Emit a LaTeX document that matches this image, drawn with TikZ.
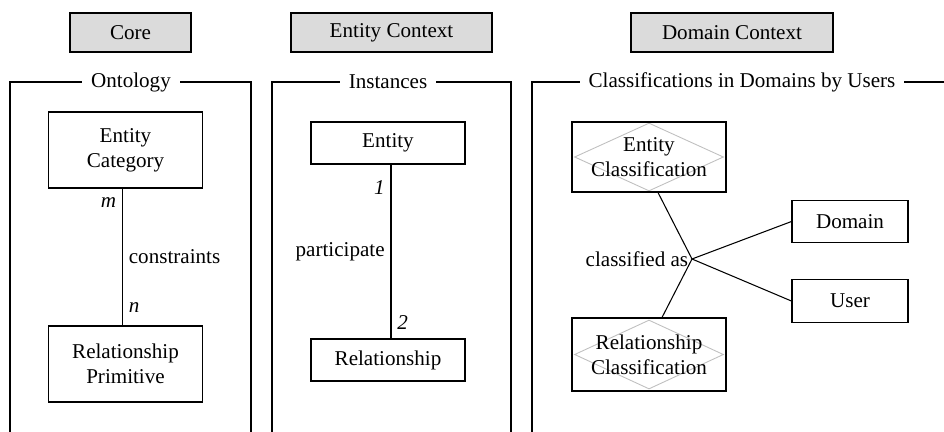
\documentclass[tikz,border=0pt]{standalone}
\usepackage{fontspec}
\setmainfont{Liberation Serif}
\usetikzlibrary{positioning,shapes.geometric,backgrounds}

\begin{document}
\begin{tikzpicture}[
    x=0.02cm, y=-0.02cm,
    font=\fontsize{12}{14}\selectfont,
    header/.style={draw=black, line width=0.8pt, fill=black!14, minimum height=0.78cm},
    entbox/.style={draw=black, line width=0.6pt, align=center, minimum width=3.08cm},
    cbox/.style={draw=black, line width=0.6pt, minimum width=2.32cm, minimum height=0.85cm},
    frametitle/.style={fill=white, inner xsep=5pt, inner ysep=1pt},
    frameline/.style={line width=0.6pt},
    link/.style={line width=0.6pt},
    mult/.style={font=\fontsize{12}{14}\selectfont\itshape},
    hint/.style={shape=diamond, draw=black!25, line width=0.5pt, minimum width=2.98cm, inner sep=0pt}
  ]
  \useasboundingbox (0,0) rectangle (944,432);

  % the three headers
  \node[header, minimum width=2.42cm] (core) at (130.5,32.5) {Core};
  \node[header, minimum width=4.02cm] (entctx) at (391.5,32.5) {Entity Context};
  \node[header, minimum width=4.04cm] (domctx) at (732,32.5) {Domain Context};

  % frames
  \draw[frameline] (10,432) -- (10,82) -- (251,82) -- (251,432);
  \draw[frameline] (272,432) -- (272,82) -- (511,82) -- (511,432);
  \draw[frameline] (532,432) -- (532,82) -- (944,82);
  \node[frametitle] (ontotitle) at (131,82) {Ontology};
  \node[frametitle] (insttitle) at (388,82) {Instances};
  \node[frametitle] (clstitle) at (742,82) {Classifications in Domains by Users};

  % ontology
  \node[entbox, minimum height=1.52cm] (entcat) at (125.5,150) {Entity\\ Category};
  \node[entbox, minimum height=1.52cm, below=2.74cm of entcat] (relprim) {Relationship\\ Primitive};

  % instances
  \node[entbox, minimum height=0.84cm] (entity) at (388,143) {Entity};
  \node[entbox, minimum height=0.84cm, below=3.48cm of entity] (relship) {Relationship};

  % classifications
  \node[entbox, minimum height=1.40cm] (entcls) at (649,157) {Entity\\ Classification};
  \node[entbox, minimum height=1.46cm, below=2.5cm of entcls] (relcls) {Relationship\\ Classification};
  \begin{scope}[on background layer]
    \node[hint, minimum height=1.36cm] (entdia) at (entcls) {};
    \node[hint, minimum height=1.38cm] (reldia) at (relcls) {};
  \end{scope}
  \node[cbox] (domain) at (850,221.5) {Domain};
  \node[cbox, below=0.72cm of domain] (user) {User};
  \coordinate (junc) at (692,259);

  \draw[link] ([xshift=-0.06cm]entcat.south)
    -- node[pos=0.1, left, mult] (mlbl) {m}
       node[midway, right] (conslbl) {constraints}
       node[pos=0.87, right, mult] (nlbl) {n}
    ([xshift=-0.06cm]relprim.north);
  \draw[link] ([xshift=0.06cm]entity.south)
    -- node[pos=0.13, left, mult] (onelbl) {1}
       node[midway, left] (partlbl) {participate}
       node[pos=0.91, right, mult] (twolbl) {2}
    ([xshift=0.06cm]relship.north);
  \draw[link] ([xshift=0.18cm]entcls.south) -- (junc) -- ([xshift=0.26cm]relcls.north);
  \draw[link] (domain.west) -- (junc) -- (user.west);
  \node[left, inner sep=2pt] (clslbl) at (junc) {classified as};
\end{tikzpicture}
\end{document}
